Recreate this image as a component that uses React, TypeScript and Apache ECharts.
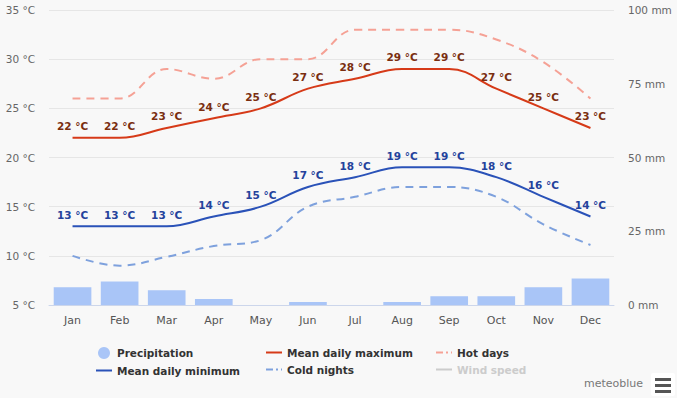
import React, { useEffect, useRef } from "react";
import * as echarts from "echarts";

const months = ["Jan", "Feb", "Mar", "Apr", "May", "Jun", "Jul", "Aug", "Sep", "Oct", "Nov", "Dec"];
const meanMax = [22, 22, 23, 24, 25, 27, 28, 29, 29, 27, 25, 23];
const meanMin = [13, 13, 13, 14, 15, 17, 18, 19, 19, 18, 16, 14];
const hotDays = [26, 26, 29, 28, 30, 30, 33, 33, 33, 32, 29.7, 26];
const coldNights = [10, 9, 9.9, 11, 11.6, 15, 16, 17, 17, 16, 13.2, 11.1];
const precipitation = [6, 8, 5, 2, 0, 1, 0, 1, 3, 3, 6, 9];
const tempTicks = [5, 35, 5];
const precipTicks = [0, 100, 25];

const FONT = "DejaVu Sans";
const LINE_ICON = "path://M0,0 L16,0 L16,2 L0,2 Z";
const DASH_ICON = "path://M0,0 L7,0 L7,2 L0,2 Z M10,0 L12,0 L12,2 L10,2 Z M15,0 L16,0 L16,2 L15,2 Z";

export default function App() {
  const ref = useRef<HTMLDivElement>(null);
  useEffect(() => {
    if (!ref.current) return;
    const chart = echarts.init(ref.current, undefined, { renderer: "svg" });
    const legendText = { fontFamily: FONT, fontSize: 10.5, fontWeight: "bold" as const, color: "#333" };
    const legendBase = {
      top: 342, orient: "vertical" as const, itemGap: 6, itemWidth: 16, itemHeight: 12,
      textStyle: legendText, inactiveColor: "#ccc", inactiveBorderColor: "#ccc",
    };
    const lineLabel = (color: string) => ({
      show: true,
      position: "top" as const,
      distance: 6,
      formatter: (p: any) => `${p.value} °C`,
      fontFamily: FONT,
      fontSize: 10.5,
      fontWeight: "bold" as const,
      color,
    });
    chart.setOption({
      animation: false,
      backgroundColor: "#f8f8f8",
      grid: { left: 49, right: 63, top: 10, bottom: 93, containLabel: false },
      legend: [
        {
          ...legendBase, left: 91,
          data: [{ name: "Precipitation", icon: "circle" }, { name: "Mean daily minimum", icon: LINE_ICON }],
        },
        {
          ...legendBase, left: 261,
          data: [{ name: "Mean daily maximum", icon: LINE_ICON }, { name: "Cold nights", icon: DASH_ICON }],
        },
        {
          ...legendBase, left: 431,
          data: [{ name: "Hot days", icon: DASH_ICON }, { name: "Wind speed", icon: LINE_ICON }],
          selected: { "Wind speed": false },
        },
      ],
      xAxis: {
        type: "category",
        data: months,
        boundaryGap: true,
        axisLine: { lineStyle: { color: "#ccd6eb" } },
        axisTick: { show: false },
        axisLabel: { fontFamily: FONT, fontSize: 11, color: "#555", margin: 10 },
      },
      yAxis: [
        {
          type: "value",
          min: tempTicks[0],
          max: tempTicks[1],
          interval: tempTicks[2],
          axisLabel: { formatter: "{value} °C", fontFamily: FONT, fontSize: 10.5, color: "#666", margin: 14 },
          splitLine: { lineStyle: { color: "#e6e6e6" } },
          axisLine: { show: false },
          axisTick: { show: false },
        },
        {
          type: "value",
          min: precipTicks[0],
          max: precipTicks[1],
          interval: precipTicks[2],
          position: "right",
          axisLabel: { formatter: "{value} mm", fontFamily: FONT, fontSize: 10.5, color: "#666", margin: 14 },
          splitLine: { show: false },
          axisLine: { show: false },
          axisTick: { show: false },
        },
      ],
      series: [
        {
          name: "Precipitation",
          type: "bar",
          yAxisIndex: 1,
          data: precipitation,
          barCategoryGap: "20%",
          itemStyle: { color: "#a9c5f7" },
          z: 1,
        },
        {
          name: "Hot days",
          type: "line",
          data: hotDays,
          smooth: 0.4,
          showSymbol: false,
          symbol: "none",
          lineStyle: { color: "#f5a195", width: 2, type: [8, 6] },
          itemStyle: { color: "#f5a195" },
          z: 2,
        },
        {
          name: "Cold nights",
          type: "line",
          data: coldNights,
          smooth: 0.4,
          showSymbol: false,
          symbol: "none",
          lineStyle: { color: "#7ea1dd", width: 2, type: [8, 6] },
          itemStyle: { color: "#7ea1dd" },
          z: 2,
        },
        {
          name: "Mean daily maximum",
          type: "line",
          data: meanMax,
          smooth: 0.4,
          showSymbol: true,
          symbol: "circle",
          symbolSize: 0.1,
          lineStyle: { color: "#d63a18", width: 2 },
          itemStyle: { color: "#d63a18" },
          label: lineLabel("#7a2e10"),
          z: 3,
        },
        {
          name: "Mean daily minimum",
          type: "line",
          data: meanMin,
          smooth: 0.4,
          showSymbol: true,
          symbol: "circle",
          symbolSize: 0.1,
          lineStyle: { color: "#2a52b8", width: 2 },
          itemStyle: { color: "#2a52b8" },
          label: lineLabel("#24429c"),
          z: 3,
        },
        {
          name: "Wind speed",
          type: "line",
          data: [],
          showSymbol: false,
          lineStyle: { color: "#bbb", width: 2 },
          itemStyle: { color: "#bbb" },
        },
      ],
      graphic: [
        {
          type: "text",
          left: 584,
          top: 378,
          style: { text: "meteoblue", fontFamily: FONT, fontSize: 11, fill: "#777" },
        },
        {
          type: "group",
          left: 651,
          top: 373,
          children: [
            { type: "rect", shape: { x: 0, y: 0, width: 24, height: 23, r: 2 }, style: { fill: "#ffffff" } },
            { type: "rect", shape: { x: 4, y: 5, width: 16, height: 3 }, style: { fill: "#555" } },
            { type: "rect", shape: { x: 4, y: 11, width: 16, height: 3 }, style: { fill: "#555" } },
            { type: "rect", shape: { x: 4, y: 17, width: 16, height: 3 }, style: { fill: "#555" } },
          ],
        },
      ],
    });
    return () => chart.dispose();
  }, []);
  return <div ref={ref} style={{ width: 677, height: 398, position: "absolute", left: 0, top: 0 }} />;
}
